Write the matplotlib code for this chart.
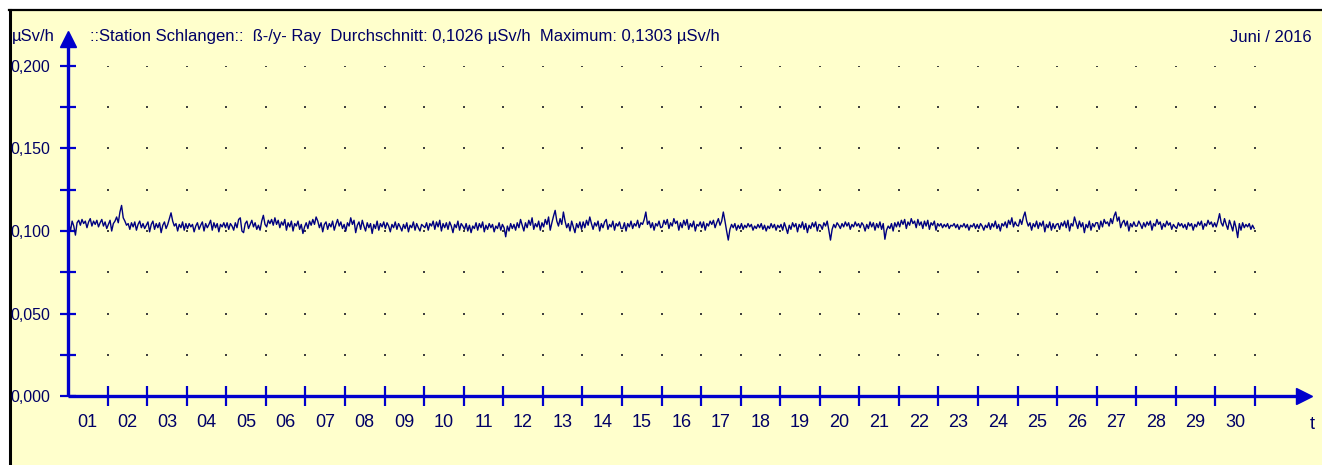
import matplotlib.pyplot as plt
import numpy as np
from matplotlib.patches import Rectangle
from matplotlib.lines import Line2D

# hourly dose rate readings, in units of 0.0001 uSv/h (24 per day)
d01 = [1045, 1000, 1060, 1030, 975, 1050, 1065, 1035, 1070, 1045, 1060, 1020, 1055, 1075, 1030, 1060, 1040, 1065, 1025, 1050, 1070, 1030, 1055, 1015]
d02 = [1040, 1065, 1000, 1045, 1060, 1085, 1050, 1115, 1155, 1080, 1060, 1035, 1045, 1010, 1050, 1025, 1055, 1005, 1040, 1060, 1020, 1045, 1015, 1035]
d03 = [1055, 995, 1040, 1060, 1010, 1045, 1020, 1050, 990, 1035, 1055, 1015, 1040, 1075, 1110, 1060, 1030, 1045, 1000, 1040, 1020, 1055, 1005, 1045]
d04 = [1015, 1045, 1025, 1040, 995, 1030, 1050, 1010, 1035, 1055, 1000, 1045, 1020, 1040, 1065, 1005, 1050, 1020, 1045, 995, 1040, 1025, 1050, 1020]
d05 = [1050, 1010, 1045, 1030, 1005, 1050, 1020, 1070, 1080, 1000, 990, 1045, 1060, 1015, 1040, 1065, 1025, 1050, 1010, 1035, 1005, 1060, 1095, 1040]
d06 = [1025, 1065, 1045, 1070, 1035, 1080, 1040, 1065, 1020, 1055, 1035, 1070, 1005, 1050, 1025, 1060, 1000, 1045, 1030, 1060, 1010, 1040, 985, 1025]
d07 = [1050, 1015, 1060, 1035, 1070, 1040, 1085, 1060, 1020, 1050, 995, 1040, 1055, 1010, 1045, 1025, 1060, 1005, 1040, 1070, 1030, 1055, 1015, 1040]
d08 = [1000, 1050, 1030, 1080, 1040, 1065, 990, 1035, 1055, 1010, 1065, 1030, 1000, 1050, 1020, 1045, 985, 1040, 1015, 1060, 1005, 1045, 1025, 1055]
d09 = [1015, 1050, 1030, 995, 1040, 1020, 1055, 1010, 1045, 1025, 1000, 1040, 1015, 1050, 995, 1035, 1020, 1055, 1005, 1045, 1020, 1000, 1040, 1030]
d10 = [1020, 1050, 1005, 1045, 1030, 1060, 1010, 1055, 1025, 1065, 1000, 1045, 1020, 1050, 1010, 1055, 1030, 990, 1040, 1020, 1060, 1005, 1045, 1030]
d11 = [1010, 1045, 1000, 1035, 990, 1030, 1015, 1050, 1005, 1045, 1020, 1055, 995, 1035, 1010, 1045, 1020, 1040, 995, 1030, 1015, 1050, 1005, 1040]
d12 = [1020, 965, 1030, 1000, 1045, 1015, 1040, 1005, 1050, 1020, 1070, 1035, 1000, 1050, 1020, 1065, 1035, 1080, 1010, 1045, 1025, 1060, 1005, 1050]
d13 = [1025, 1070, 1040, 1085, 1005, 1050, 1090, 1125, 1060, 1030, 1075, 1040, 1115, 1060, 1020, 1045, 1000, 1060, 1025, 990, 1045, 1020, 1055, 1010]
d14 = [1055, 1020, 1065, 1035, 1085, 1045, 1010, 1050, 1030, 1060, 1000, 1045, 1020, 1055, 1070, 1010, 1040, 1025, 1060, 1005, 1045, 1030, 1055, 1015]
d15 = [1015, 1050, 1000, 1045, 1025, 1060, 1015, 1045, 1030, 1065, 1020, 1050, 1040, 1070, 1115, 1040, 1060, 1020, 1050, 1005, 1045, 1030, 1060, 1020]
d16 = [1025, 1065, 1040, 1070, 1015, 1050, 1030, 1075, 1045, 1060, 1005, 1050, 1020, 1065, 1035, 1070, 1010, 1045, 1025, 1060, 1000, 1040, 1030, 1055]
d17 = [1020, 1055, 1005, 1045, 1030, 1060, 1040, 1065, 1020, 1050, 1075, 1035, 1060, 1115, 1060, 1000, 945, 1010, 1040, 1020, 1045, 1005, 1035, 1015]
d18 = [1045, 1010, 1035, 1020, 1045, 1025, 1040, 1005, 1030, 1015, 1040, 1020, 1045, 1010, 1035, 1000, 1030, 1015, 1045, 1020, 1040, 1005, 1035, 1020]
d19 = [1040, 1005, 1050, 1020, 985, 1035, 1010, 1050, 1025, 1045, 995, 1040, 1020, 1055, 1010, 1045, 990, 1035, 1015, 1050, 1025, 1055, 1000, 1040]
d20 = [1035, 1010, 1050, 1030, 1060, 1005, 945, 1010, 1040, 1020, 1050, 1035, 1015, 1045, 1025, 1055, 1030, 1050, 1010, 1040, 1025, 1055, 1030, 1045]
d21 = [1020, 1050, 1035, 1000, 1040, 1015, 1055, 1025, 1050, 1005, 1045, 1020, 1055, 1010, 1045, 950, 1005, 1030, 1015, 1045, 1000, 1050, 1025, 1055]
d22 = [1025, 1065, 1040, 1070, 1015, 1055, 1035, 1075, 1045, 1060, 1020, 1070, 1035, 1055, 1015, 1060, 1030, 1065, 1010, 1050, 1035, 1060, 1005, 1045]
d23 = [1030, 1045, 1020, 1040, 1025, 1045, 1015, 1035, 1030, 1045, 1020, 1040, 1010, 1035, 1025, 1045, 1020, 1040, 1005, 1035, 1025, 1045, 1015, 1040]
d24 = [1015, 1045, 1030, 1005, 1035, 1020, 1050, 1010, 1045, 1025, 1060, 1015, 1040, 1000, 1045, 1030, 1055, 1020, 1065, 1040, 1080, 1025, 1055, 1035]
d25 = [1030, 1070, 1040, 1085, 1115, 1060, 1030, 1050, 1005, 1045, 1025, 1060, 1015, 1050, 1030, 1060, 995, 1040, 1020, 1055, 1005, 1045, 1015, 1040]
d26 = [1045, 1010, 1050, 1030, 1060, 1020, 1065, 1000, 1045, 1030, 1085, 1050, 1015, 1060, 1025, 1050, 990, 1040, 1020, 1060, 1005, 1045, 1025, 1050]
d27 = [1050, 1010, 1060, 1025, 1070, 1045, 1055, 1030, 1075, 1045, 1090, 1115, 1060, 1085, 1020, 1050, 1065, 1030, 1060, 1000, 1045, 1025, 1055, 1030]
d28 = [1030, 1060, 1040, 1015, 1050, 1025, 1055, 1035, 1060, 1005, 1045, 1030, 1070, 1040, 1055, 1010, 1045, 1025, 1060, 1035, 1050, 1010, 1040, 1025]
d29 = [1015, 1050, 1030, 1045, 1020, 1040, 1010, 1050, 1030, 1045, 1005, 1040, 1025, 1055, 1035, 1060, 1010, 1045, 1030, 1065, 1040, 1055, 1025, 1050]
d30 = [1025, 1060, 1105, 1050, 1030, 1075, 1040, 1010, 1065, 1035, 1000, 1060, 1020, 960, 1045, 1005, 1050, 1020, 1040, 1025, 1045, 1010, 1035, 1015]

days = [d01, d02, d03, d04, d05, d06, d07, d08, d09, d10,
        d11, d12, d13, d14, d15, d16, d17, d18, d19, d20,
        d21, d22, d23, d24, d25, d26, d27, d28, d29, d30]

y_ticks = [0.0, 0.05, 0.10, 0.15, 0.20]
y_labels = ['0,000', '0,050', '0,100', '0,150', '0,200']
day_labels = ['%02d' % d for d in range(1, 31)]

title = '::Station Schlangen::  ß-/y- Ray  Durchschnitt: 0,1026 µSv/h  Maximum: 0,1303 µSv/h'

plt.rcParams['font.family'] = ['Liberation Sans', 'DejaVu Sans']
txt = '#000066'
blue = '#0000cc'

W, H = 1322, 465
fig = plt.figure(figsize=(W / 100, H / 100), dpi=100, facecolor='white')

# yellow panel with black frame top / left
fig.patches.append(Rectangle((9 / W, 0), 1, 1 - 11 / H, transform=fig.transFigure,
                             facecolor='#ffffcc', edgecolor='none', zorder=-5))
fig.lines.append(Line2D([9 / W, 1], [1 - 10 / H] * 2, transform=fig.transFigure,
                        color='black', lw=1.6, zorder=-4))
fig.lines.append(Line2D([9.5 / W] * 2, [0, 1 - 10 / H], transform=fig.transFigure,
                        color='black', lw=2.2, zorder=-4))

ax = fig.add_axes([68 / W, (H - 396) / H, (1255 - 68) / W, (396 - 66) / H])
ax.set_xlim(0, 30)
ax.set_ylim(0, 0.2)
ax.patch.set_visible(False)
for s in ax.spines.values():
    s.set_visible(False)

# dotted grid
gx, gy = np.meshgrid(np.arange(1, 31), np.arange(0.025, 0.201, 0.025))
ax.scatter(gx.ravel(), gy.ravel(), s=2, marker='s', color='#404040', linewidths=0)

# data
vals = np.concatenate(days) / 10000.0
t = (np.arange(len(vals)) + 0.5) / 24
ax.plot(t, vals, color='#000080', lw=1.0)

# axes with arrows
ax.plot([0, 31.2], [0, 0], color=blue, lw=2.4, clip_on=False, solid_capstyle='butt')
ax.plot([31.25], [0], marker='>', ms=11, color=blue, clip_on=False)
ax.plot([0, 0], [0, 0.214], color=blue, lw=2.4, clip_on=False, solid_capstyle='butt')
ax.plot([0], [0.2165], marker='^', ms=11, color=blue, clip_on=False)

ax.set_yticks(y_ticks, labels=y_labels)
ax.set_yticks(np.arange(0.025, 0.2, 0.05), minor=True)
ax.tick_params(axis='y', which='both', direction='inout', length=12, width=1.6,
               color=blue, labelcolor=txt, labelsize=11.5, pad=7)

ax.set_xticks(np.arange(1, 31))
ax.set_xticklabels([])
ax.tick_params(axis='x', which='major', direction='inout', length=15, width=1.6, color=blue)
ax.set_xticks(np.arange(0.5, 30), labels=day_labels, minor=True)
ax.tick_params(axis='x', which='minor', length=0, labelcolor=txt, labelsize=13, pad=13)

fig.text(12 / W, 1 - 37 / H, 'µSv/h', color=txt, fontsize=12, va='center', ha='left')
fig.text(90 / W, 1 - 37 / H, title, color=txt, fontsize=12, va='center', ha='left')
fig.text(1312 / W, 1 - 37 / H, 'Juni / 2016', color=txt, fontsize=12, va='center', ha='right')
fig.text(1312 / W, 1 - 424 / H, 't', color=txt, fontsize=13, va='center', ha='center')

fig.savefig('out.png', dpi=100, facecolor='white')
